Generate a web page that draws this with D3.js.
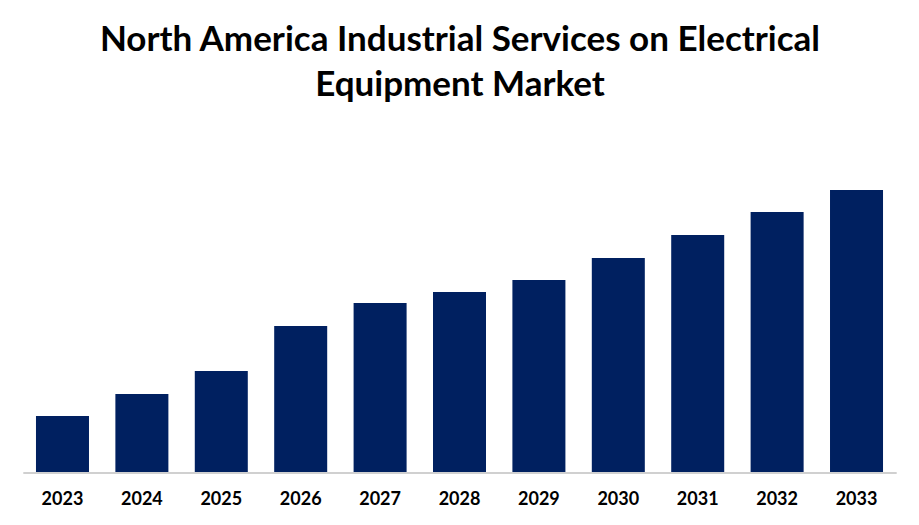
<!DOCTYPE html>
<html>
<head>
<meta charset="utf-8">
<script src="https://cdn.jsdelivr.net/npm/d3@7"></script>
<style>
body { margin: 0; background: white; }
text { font-family: Lato, sans-serif; font-weight: bold; fill: black; }
</style>
</head>
<body>
<svg id="chart" width="919" height="525"></svg>
<script>
const years = ["2023", "2024", "2025", "2026", "2027", "2028", "2029", "2030", "2031", "2032", "2033"];
const marketValues = [56, 78, 101, 146, 169, 180, 192, 214, 237, 260, 282];
const titleLines = ["North America Industrial Services on Electrical", "Equipment Market"];

const svg = d3.select("#chart");

const x = d3.scaleBand()
    .domain(years)
    .range([22.8, 896.2])
    .paddingInner(0.3325)
    .paddingOuter(0.166);

const y = d3.scaleLinear()
    .domain([0, 282])
    .range([472, 190]);

svg.selectAll(".title")
    .data(titleLines)
    .enter().append("text")
    .attr("class", "title")
    .attr("x", 460)
    .attr("y", (d, i) => 51 + i * 45)
    .attr("text-anchor", "middle")
    .style("font-size", "35px")
    .text(d => d);

svg.selectAll(".bar")
    .data(marketValues)
    .enter().append("rect")
    .attr("class", "bar")
    .attr("x", (d, i) => x(years[i]))
    .attr("y", d => y(d))
    .attr("width", x.bandwidth())
    .attr("height", d => y(0) - y(d))
    .attr("fill", "#002060");

const axis = d3.axisBottom(x).tickSize(0).tickPadding(20);

const axisG = svg.append("g")
    .attr("transform", "translate(0,472.5)")
    .call(axis);

axisG.select(".domain").attr("stroke", "#d0d0d0").attr("stroke-width", 2);
axisG.selectAll("text").style("font-size", "18px").style("font-family", null);
axisG.attr("font-family", null);
</script>
</body>
</html>
